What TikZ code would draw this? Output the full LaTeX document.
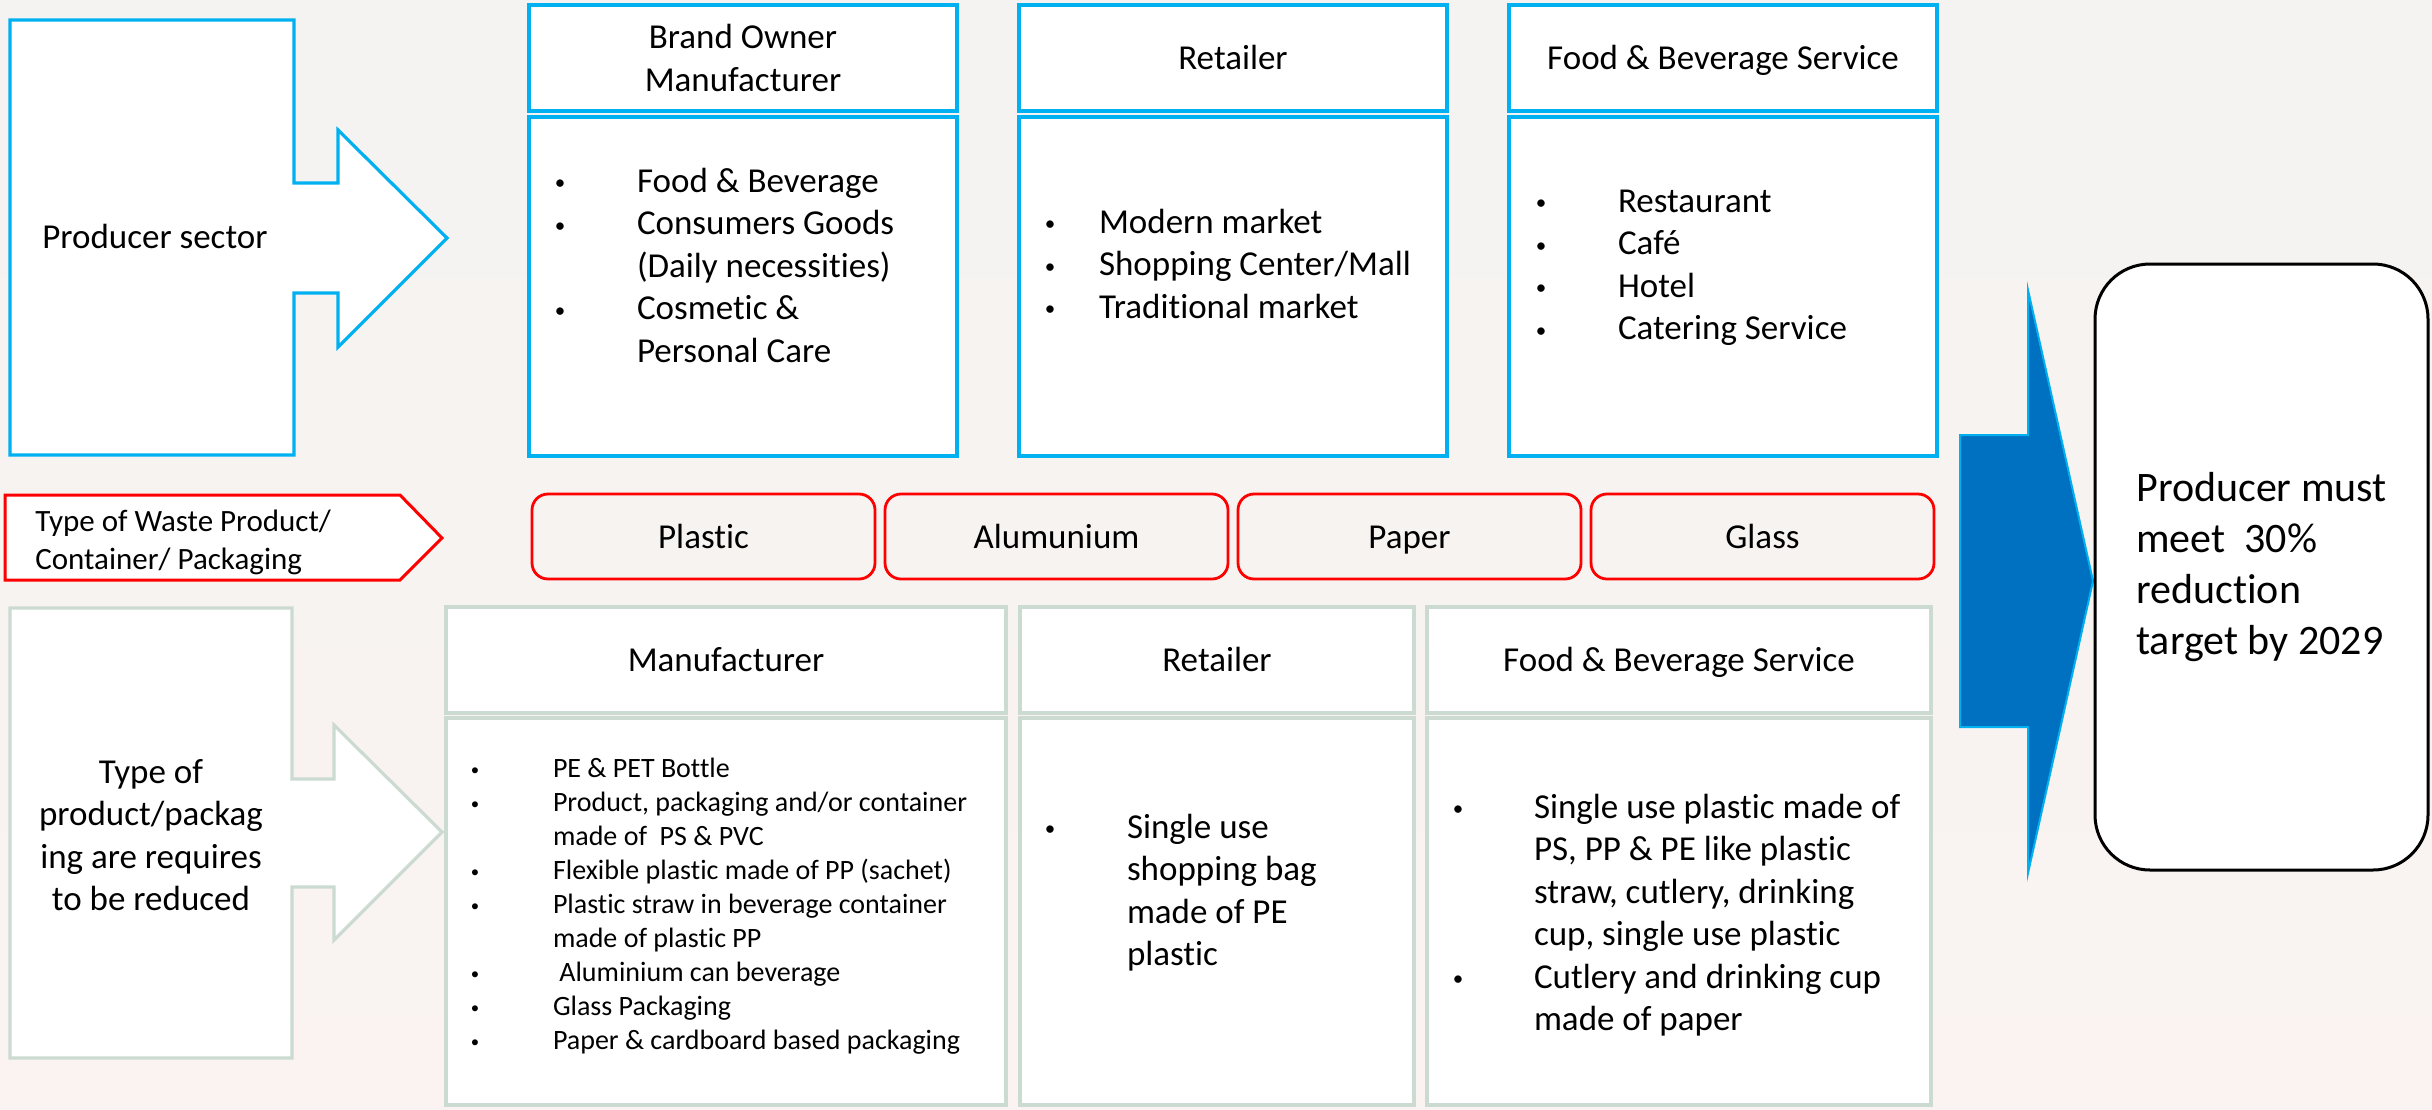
\documentclass[tikz,border=0pt]{standalone}
\usepackage{fontspec}
\setmainfont{Carlito}[Ligatures={NoCommon}]
\usepackage{graphicx}
\usetikzlibrary{positioning}

\definecolor{skyline}{HTML}{00B0F0}
\definecolor{sageline}{RGB}{204,219,210}
\definecolor{wastered}{HTML}{FF0000}
\definecolor{arrowblue}{HTML}{0070C0}
\definecolor{paperbg}{HTML}{F4F3F1}
\definecolor{paperbgwarm}{HTML}{FAF3F1}

% font sizes
\newcommand{\bodysize}{\fontsize{35}{42.5}\selectfont}
\newcommand{\tagsize}{\fontsize{31}{38}\selectfont}
\newcommand{\smallsize}{\fontsize{28}{34}\selectfont}
\newcommand{\goalsize}{\fontsize{42}{50.7}\selectfont}

% bullet lists: bullet centred on the left edge, text \bgap further right
\newlength{\bgap}
\newcommand{\bmark}{\makebox[0pt]{\raisebox{0.06em}{\scalebox{0.6}{\textbullet}}}}
\newcommand{\pitem}{\bmark\hspace{\bgap}}
\newcommand{\pcont}{\hspace{\bgap}}
\newcommand{\blist}[1]{\begin{tabular}[t]{@{}l@{}}#1\end{tabular}}

\begin{document}
\begin{tikzpicture}[x=1pt, y=-1pt, font=\bodysize,
  every node/.style={outer sep=0pt},
  oneline/.style={text height=23pt, text depth=0pt},
  sectorhead/.style={draw=skyline, line width=3.2pt, fill=white, minimum width=428pt, minimum height=106pt, inner sep=0pt, align=center},
  sectorbody/.style={sectorhead, minimum height=339pt},
  reducehead/.style={draw=sageline, line width=3.2pt, fill=white, minimum height=106pt, inner sep=0pt, oneline},
  reducebody/.style={reducehead, minimum height=387pt},
  material/.style={draw=wastered, line width=2.8pt, rounded corners=16pt, minimum width=343pt, minimum height=85pt, inner sep=0pt, oneline},
  itemlist/.style={anchor=base west, inner sep=0pt, execute at begin node={\setlength{\bgap}{#1}}},
  callout/.style={line width=3.2pt, fill=white}
]
\useasboundingbox (0,0) rectangle (2432,1109);
\shade[top color=paperbg, bottom color=paperbgwarm] (0,0) rectangle (2432,1109);

% producer sector
\draw[callout, draw=skyline] (10,20) -- (294,20) -- (294,183) -- (338,183) -- (338,130) -- (447,238)
  -- (338,347) -- (338,293) -- (294,293) -- (294,455) -- (10,455) -- cycle;
\node[anchor=base west] (producer) at (39,248) {Producer sector};

\node[sectorhead, anchor=north west] (bohead) at (529,5) {Brand Owner\\Manufacturer};
\node[sectorhead, oneline, right=62pt of bohead] (rethead) {Retailer};
\node[sectorhead, oneline, right=62pt of rethead] (fbhead) {Food \& Beverage Service};
\node[sectorbody, below=6pt of bohead] (bobody) {};
\node[sectorbody, below=6pt of rethead] (retbody) {};
\node[sectorbody, below=6pt of fbhead] (fbbody) {};

\node[itemlist=77pt] (bolist) at ([shift={(31,75)}]bobody.north west)
  {\blist{\pitem Food \& Beverage\\ \pitem Consumers Goods\\ \pcont (Daily necessities)\\ \pitem Cosmetic \&\\ \pcont Personal Care}};
\node[itemlist=49pt] (retlist) at ([shift={(31,116)}]retbody.north west)
  {\blist{\pitem Modern market\\ \pitem Shopping Center/Mall\\ \pitem Traditional market}};
\node[itemlist=77pt] (fblist) at ([shift={(32,95)}]fbbody.north west)
  {\blist{\pitem Restaurant\\ \pitem Café\\ \pitem Hotel\\ \pitem Catering Service}};

% waste types
\draw[wastered, line width=3pt, fill=white] (5,495) -- (400,495) -- (442,538) -- (400,580) -- (5,580) -- cycle;
\node[font=\tagsize, align=left, anchor=west] (wastetag) at (32,542) {Type of Waste Product/\\Container/ Packaging};

\node[material, anchor=north west] (plastic) at (532,494) {Plastic};
\node[material, right=10pt of plastic] (alu) {Alumunium};
\node[material, right=10pt of alu] (paper) {Paper};
\node[material, right=10pt of paper] (glass) {Glass};

% products to be reduced
\draw[callout, draw=sageline] (10,608) -- (292,608) -- (292,779) -- (334,779) -- (334,725) -- (442,832)
  -- (334,940) -- (334,887) -- (292,887) -- (292,1058) -- (10,1058) -- cycle;
\node[align=center] (reduced) at (151,835) {Type of\\product/packag\\ing are requires\\to be reduced};

\node[reducehead, minimum width=560pt, anchor=north west] (mfhead) at (446,607) {Manufacturer};
\node[reducehead, minimum width=394pt, right=14pt of mfhead] (rthead) {Retailer};
\node[reducehead, minimum width=504pt, right=13pt of rthead] (fbshead) {Food \& Beverage Service};
\node[reducebody, minimum width=560pt, below=5pt of mfhead] (mfbody) {};
\node[reducebody, minimum width=394pt, below=5pt of rthead] (rtbody) {};
\node[reducebody, minimum width=504pt, below=5pt of fbshead] (fbsbody) {};

\node[itemlist=78pt, font=\smallsize] (mflist) at ([shift={(29,59)}]mfbody.north west)
  {\blist{\pitem PE \& PET Bottle\\ \pitem Product, packaging and/or container\\ \pcont made of\ \ PS \& PVC\\
   \pitem Flexible plastic made of PP (sachet)\\ \pitem Plastic straw in beverage container\\ \pcont made of plastic PP\\
   \pitem\ Aluminium can beverage\\ \pitem Glass Packaging\\ \pitem Paper \& cardboard based packaging}};
\node[itemlist=77pt] (rtlist) at ([shift={(30,120)}]rtbody.north west)
  {\blist{\pitem Single use\\ \pcont shopping bag\\ \pcont made of PE\\ \pcont plastic}};
\node[itemlist=76pt] (fbslist) at ([shift={(31,100)}]fbsbody.north west)
  {\blist{\pitem Single use plastic made of\\ \pcont PS, PP \& PE like plastic\\ \pcont straw, cutlery, drinking\\
   \pcont cup, single use plastic\\ \pitem Cutlery and drinking cup\\ \pcont made of paper}};

% outcome
\draw[fill=arrowblue, draw=skyline, line width=2pt] (1960,435) -- (2028,435) -- (2028,290) -- (2093,581)
  -- (2028,873) -- (2028,727) -- (1960,727) -- cycle;
\node[draw=black, line width=3pt, fill=white, rounded corners=55pt, minimum width=333pt, minimum height=606pt,
  anchor=north west, font=\goalsize, align=left] (target) at (2095,264)
  {Producer must\\meet\ \ 30\%\\reduction\\target by 2029};
\end{tikzpicture}
\end{document}
